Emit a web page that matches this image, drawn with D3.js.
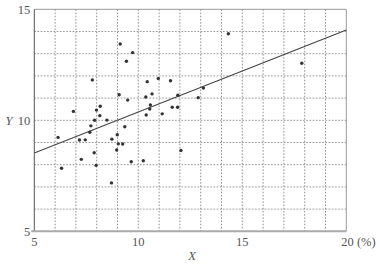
<!DOCTYPE html>
<html><head><meta charset="utf-8">
<script src="https://cdn.jsdelivr.net/npm/d3@7"></script>
<style>
html,body{margin:0;padding:0;background:#fff;}
svg{display:block;}
text{font-family:"Liberation Serif","DejaVu Serif",serif;fill:#555;}
</style></head>
<body><svg id="c" width="380" height="267"></svg>
<script>
const xValues = [14.33,17.86,9.13,9.73,9.43,7.79,10.43,10.96,11.55,9.08,9.49,10.36,10.66,11.90,13.13,12.88,6.88,7.99,8.17,10.58,10.55,10.38,11.15,11.63,11.89,8.15,7.90,8.49,7.72,9.35,7.67,6.14,7.17,7.45,8.73,8.99,9.04,9.25,8.96,7.88,7.26,7.97,9.66,10.24,12.05,6.31,8.71];
const yValues = [13.90,12.57,13.44,13.05,12.66,11.82,11.74,11.88,11.78,11.15,10.91,11.05,11.19,11.13,11.45,11.02,10.40,10.46,10.63,10.69,10.51,10.24,10.29,10.59,10.59,10.21,10.00,10.01,9.75,9.71,9.46,9.23,9.11,9.12,9.15,9.35,8.94,8.93,8.66,8.54,8.24,7.97,8.13,8.18,8.64,7.84,7.18];
const lineX = [5, 20];
const lineY = [8.53, 14.07];
const xTickLabels = ["5","10","15","20 (%)"];
const xTickValues = [5,10,15,20];
const yTickLabels = ["5","10","15"];
const yTickValues = [5,10,15];

const svg = d3.select("#c");
const L=34.3, R=346.3, T=9.3, B=231.3;
const x = d3.scaleLinear().domain([5,20]).range([L,R]);
const y = d3.scaleLinear().domain([5,15]).range([B,T]);

// grid
const g = svg.append("g");
g.selectAll(".vg").data(d3.range(6,20)).join("line")
  .attr("x1",d=>x(d)).attr("x2",d=>x(d)).attr("y1",T).attr("y2",B)
  .attr("stroke","#888").attr("stroke-width",0.9).attr("stroke-dasharray","1.6,1.6");
g.selectAll(".hg").data(d3.range(6,15)).join("line")
  .attr("x1",L).attr("x2",R).attr("y1",d=>y(d)).attr("y2",d=>y(d))
  .attr("stroke","#888").attr("stroke-width",0.9).attr("stroke-dasharray","1.6,1.6");

// frame
svg.append("line").attr("x1",L).attr("x2",R).attr("y1",T).attr("y2",T).attr("stroke","#999").attr("stroke-width",1);
svg.append("line").attr("x1",R).attr("x2",R).attr("y1",T).attr("y2",B).attr("stroke","#999").attr("stroke-width",1);
svg.append("line").attr("x1",L).attr("x2",L).attr("y1",T).attr("y2",B).attr("stroke","#555").attr("stroke-width",1);
svg.append("line").attr("x1",L-3).attr("x2",R).attr("y1",B).attr("y2",B).attr("stroke","#aaa").attr("stroke-width",2);

// regression line
svg.append("line").attr("x1",x(lineX[0])).attr("y1",y(lineY[0])).attr("x2",x(lineX[1])).attr("y2",y(lineY[1]))
  .attr("stroke","#444").attr("stroke-width",1.1);

// points
svg.selectAll(".pt").data(xValues.map((v,i)=>[v,yValues[i]])).join("circle")
  .attr("cx",d=>x(d[0])).attr("cy",d=>y(d[1])).attr("r",1.7).attr("fill","#333");

// x tick labels
svg.selectAll(".xl").data(xTickValues).join("text")
  .attr("x",(d,i)=> i===3 ? x(d)-5 : x(d)).attr("y",246)
  .attr("text-anchor",(d,i)=> i===3 ? "start":"middle")
  .attr("font-size",12.5).text((d,i)=>xTickLabels[i]);
// y tick labels
svg.selectAll(".yl").data(yTickValues).join("text")
  .attr("x",L-4).attr("y",d=>y(d)+4.5).attr("text-anchor","end")
  .attr("font-size",12.5).text((d,i)=>yTickLabels[i]);
// axis titles
svg.append("text").attr("x",192).attr("y",260).attr("text-anchor","middle").attr("font-style","italic").attr("font-size",12.5).text("X");
svg.append("text").attr("x",9).attr("y",y(10)+4.5).attr("text-anchor","middle").attr("font-style","italic").attr("font-size",12.5).text("Y");
</script></body></html>
